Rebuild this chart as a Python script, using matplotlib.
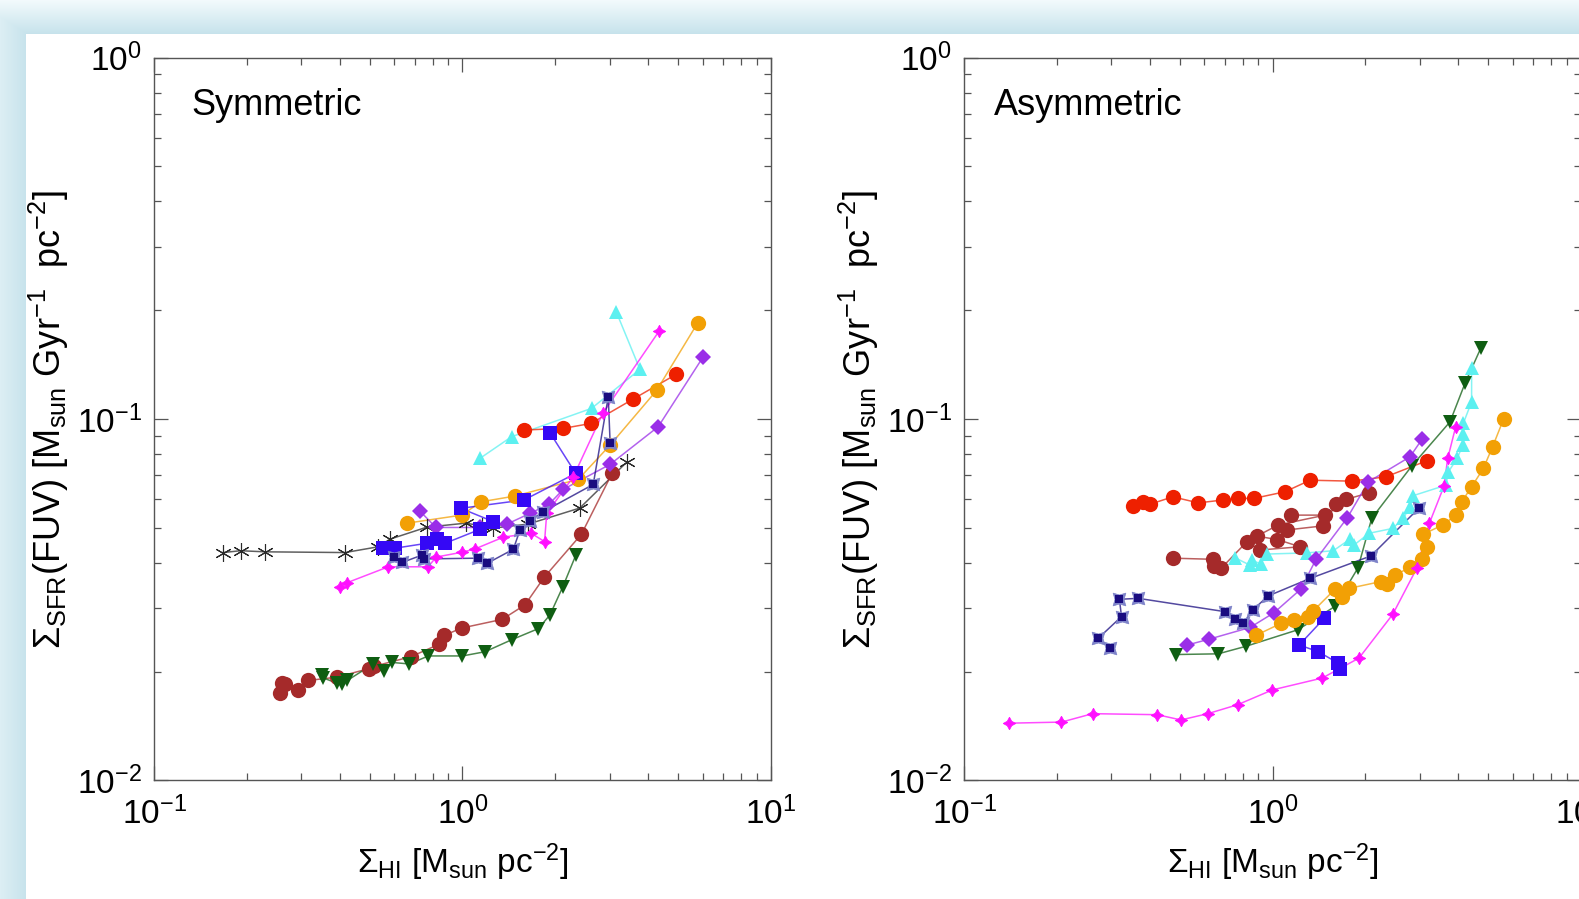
import numpy as np
import matplotlib
matplotlib.use('Agg')
import matplotlib.pyplot as plt
from matplotlib.ticker import LogLocator, FuncFormatter, NullFormatter

# ---- Symmetric panel data (Sigma_HI, Sigma_SFR) ----
sym_black_x = [0.167, 0.191, 0.229, 0.416, 0.533, 0.582, 0.766, 1.026, 1.153, 1.258, 1.634, 2.40, 3.41]
sym_black_y = [0.0427, 0.0432, 0.0429, 0.0427, 0.0443, 0.0465, 0.0502, 0.0515, 0.0506, 0.0499, 0.0512, 0.0567, 0.0760]

sym_brown_x = [0.257, 0.259, 0.266, 0.292, 0.315, 0.391, 0.499, 0.518, 0.681, 0.839, 0.873, 0.994, 1.345, 1.594, 1.841, 2.43, 3.06]
sym_brown_y = [0.0175, 0.0186, 0.0185, 0.0178, 0.0189, 0.0193, 0.0204, 0.0207, 0.0220, 0.0238, 0.0252, 0.0264, 0.0279, 0.0306, 0.0365, 0.0480, 0.0710]

sym_green_x = [0.350, 0.354, 0.391, 0.406, 0.423, 0.514, 0.557, 0.592, 0.673, 0.775, 1.00, 1.183, 1.443, 1.761, 1.921, 2.113, 2.33]
sym_green_y = [0.0196, 0.0192, 0.0186, 0.0185, 0.0189, 0.0210, 0.0201, 0.0212, 0.0210, 0.0221, 0.0221, 0.0227, 0.0245, 0.0263, 0.0287, 0.0343, 0.0420]

sym_red_x = [1.583, 2.123, 2.61, 3.56, 4.92]
sym_red_y = [0.0932, 0.0942, 0.0972, 0.1133, 0.1328]

sym_cyan_x = [1.139, 1.442, 2.62, 3.76, 3.15]
sym_cyan_y = [0.0778, 0.0893, 0.1070, 0.1372, 0.198]

sym_orange_x = [0.662, 0.994, 1.148, 1.479, 2.374, 3.01, 4.26, 5.79]
sym_orange_y = [0.0515, 0.0542, 0.0590, 0.0612, 0.0681, 0.0847, 0.120, 0.1846]

sym_purple_x = [0.728, 0.820, 1.139, 1.394, 1.655, 1.907, 2.123, 3.01, 4.31, 6.01]
sym_purple_y = [0.0556, 0.0501, 0.0501, 0.0512, 0.0548, 0.0581, 0.0639, 0.0749, 0.0952, 0.148]

sym_blue_x = [0.551, 0.604, 0.766, 0.825, 0.878, 1.139, 1.259, 0.987, 1.583, 2.328, 1.921]
sym_blue_y = [0.0439, 0.0439, 0.0453, 0.0465, 0.0453, 0.0495, 0.0520, 0.0566, 0.0597, 0.0707, 0.0916]

sym_navy_x = [0.601, 0.638, 0.738, 0.752, 1.120, 1.204, 1.461, 1.536, 1.655, 1.828, 2.653, 2.968, 3.01]
sym_navy_y = [0.0414, 0.0401, 0.0420, 0.0410, 0.0412, 0.0399, 0.0436, 0.0493, 0.0523, 0.0554, 0.0659, 0.1151, 0.0856]

sym_magenta_x = [0.401, 0.421, 0.575, 0.774, 0.822, 0.998, 1.098, 1.356, 1.667, 1.845, 1.875, 2.287, 2.848, 4.345]
sym_magenta_y = [0.0343, 0.0352, 0.0390, 0.0390, 0.0415, 0.0428, 0.0437, 0.0471, 0.0483, 0.0458, 0.0548, 0.0692, 0.1036, 0.1754]

# ---- Asymmetric panel data ----
asym_red_x = [0.354, 0.380, 0.401, 0.475, 0.575, 0.693, 0.774, 0.871, 1.098, 1.323, 1.806, 2.333, 3.16]
asym_red_y = [0.0574, 0.0590, 0.0581, 0.0609, 0.0586, 0.0597, 0.0603, 0.0603, 0.0629, 0.0677, 0.0673, 0.0692, 0.0766]

asym_brown_x = [0.475, 0.643, 0.646, 0.681, 0.825, 0.911, 1.228, 1.037, 0.889, 1.044, 1.480, 1.146, 1.112, 1.454, 1.606, 1.731, 2.060]
asym_brown_y = [0.0412, 0.0409, 0.0392, 0.0386, 0.0457, 0.0434, 0.0443, 0.0464, 0.0474, 0.0509, 0.0542, 0.0542, 0.0493, 0.0506, 0.0581, 0.0599, 0.0625]

asym_cyan_x = [0.756, 0.846, 0.856, 0.916, 0.958, 1.291, 1.574, 1.783, 1.837, 2.060, 2.453, 2.655, 2.791, 2.848, 3.651, 3.715, 3.97, 4.135, 4.154, 4.154, 4.42, 4.42]
asym_cyan_y = [0.0413, 0.0394, 0.0407, 0.0397, 0.0423, 0.0426, 0.0432, 0.0465, 0.0448, 0.0483, 0.0498, 0.0531, 0.0572, 0.0613, 0.0656, 0.0714, 0.0778, 0.0847, 0.0908, 0.0972, 0.1116, 0.138]

asym_green_x = [0.487, 0.667, 0.820, 1.207, 1.594, 1.892, 2.097, 2.827, 3.762, 4.207, 4.73]
asym_green_y = [0.0223, 0.0224, 0.0235, 0.0261, 0.0303, 0.0387, 0.0531, 0.0741, 0.0982, 0.1255, 0.1568]

asym_purple_x = [0.530, 0.624, 0.846, 1.011, 1.234, 1.384, 1.748, 2.045, 2.791, 3.05]
asym_purple_y = [0.0237, 0.0246, 0.0265, 0.0291, 0.0338, 0.0409, 0.0533, 0.0670, 0.0786, 0.0878]

asym_navy_x = [0.297, 0.272, 0.324, 0.319, 0.367, 0.702, 0.756, 0.804, 0.866, 0.969, 1.323, 2.086, 2.99]
asym_navy_y = [0.0233, 0.0247, 0.0284, 0.0317, 0.0319, 0.0293, 0.0279, 0.0272, 0.0297, 0.0324, 0.0362, 0.0418, 0.0568]

asym_blue_x = [1.472, 1.221, 1.408, 1.635, 1.655]
asym_blue_y = [0.0281, 0.0237, 0.0227, 0.0211, 0.0204]

asym_orange_x = [0.884, 1.066, 1.174, 1.299, 1.353, 1.594, 1.676, 1.774, 2.248, 2.350, 2.495, 2.784, 3.045, 3.160, 3.081, 3.562, 3.934, 4.105, 4.42, 4.825, 5.17, 5.61]
asym_orange_y = [0.0252, 0.0272, 0.0278, 0.0283, 0.0294, 0.0338, 0.0322, 0.0340, 0.0355, 0.0349, 0.0369, 0.0389, 0.0409, 0.0443, 0.0480, 0.0509, 0.0542, 0.0590, 0.0649, 0.0730, 0.0838, 0.0999]

asym_magenta_x = [0.140, 0.207, 0.261, 0.423, 0.505, 0.617, 0.771, 0.999, 1.450, 1.907, 2.453, 2.934, 3.223, 3.597, 3.698, 3.925]
asym_magenta_y = [0.0144, 0.0145, 0.0153, 0.0152, 0.0147, 0.0153, 0.0162, 0.0178, 0.0192, 0.0218, 0.0288, 0.0386, 0.0514, 0.0652, 0.0778, 0.0952]

panel_titles = ['Symmetric', 'Asymmetric']
xlabel = r'$\Sigma_{\mathrm{HI}}$ [M$_{\mathrm{sun}}$ pc$^{-2}$]'
ylabel = r'$\Sigma_{\mathrm{SFR}}$(FUV) [M$_{\mathrm{sun}}$ Gyr$^{-1}$  pc$^{-2}$]'

# colour / marker for each galaxy group
STYLE = {
    'black':   dict(color='#2a2a2a', marker=(6, 2, 0), ms=12, mew=0.8),
    'brown':   dict(color='#a52a2a', marker='o', ms=11, mew=0),
    'green':   dict(color='#0f5e12', marker='v', ms=10, mew=0),
    'red':     dict(color='#ee2000', marker='o', ms=11, mew=0),
    'cyan':    dict(color='#5cf0f0', marker='^', ms=10, mew=0),
    'orange':  dict(color='#f2a005', marker='o', ms=11, mew=0),
    'purple':  dict(color='#9a2ee8', marker='D', ms=8, mew=0),
    'blue':    dict(color='#3508f5', marker='s', ms=10, mew=0),
    'magenta': dict(color='#ff10ff', marker=(4, 1, 0), ms=9, mew=0.6),
    'navy':    dict(color='#1a0c80', marker='s', ms=5.5, mew=0),
}

plt.rcParams['font.family'] = ['Liberation Sans', 'DejaVu Sans']
plt.rcParams['mathtext.fontset'] = 'custom'
plt.rcParams['mathtext.rm'] = 'Liberation Sans'
plt.rcParams['mathtext.it'] = 'Liberation Sans:italic'
plt.rcParams['mathtext.bf'] = 'Liberation Sans:bold'
plt.rcParams['mathtext.sf'] = 'Liberation Sans'

W, H = 1579, 899
fig = plt.figure(figsize=(W / 100, H / 100), dpi=100)
fig.patch.set_facecolor('white')

# slide background: light blue band on top and left
yy, xx = np.mgrid[0:H, 0:W]
t = np.clip(np.minimum(yy / 33.0, 0.5 + 0.5 * xx / 26.0), 0, 1)
edge = np.array([0.95, 0.98, 0.99])
band = np.array([0.78, 0.89, 0.925])
bg = edge + (band - edge) * t[..., None]
bg[(xx >= 26) & (yy >= 34)] = 1.0
fig.figimage(bg, xo=0, yo=0, origin='upper', zorder=-5)


def draw_series(ax, x, y, name):
    st = STYLE[name]
    ax.plot(x, y, color=st['color'], lw=1.1, alpha=0.75, zorder=2)
    if name == 'navy':
        ax.plot(x, y, ls='none', marker=(4, 1, 45), ms=13, color='#7d82c8',
                mew=0.5, zorder=3)
    ax.plot(x, y, ls='none', marker=st['marker'], ms=st['ms'], color=st['color'],
            mec=st['color'], mew=st['mew'], zorder=3)


def tick_fmt(v, pos):
    e = int(round(np.log10(v)))
    return r'$\mathregular{10^{%d}}$' % e


def style_axes(ax, title, title_x):
    ax.set_xscale('log')
    ax.set_yscale('log')
    ax.set_xlim(0.1, 10)
    ax.set_ylim(0.01, 1)
    for a in (ax.xaxis, ax.yaxis):
        a.set_major_locator(LogLocator(base=10, numticks=10))
        a.set_minor_locator(LogLocator(base=10, subs=np.arange(2, 10), numticks=20))
        a.set_major_formatter(FuncFormatter(tick_fmt))
        a.set_minor_formatter(NullFormatter())
    ax.tick_params(which='both', direction='in', top=True, right=True,
                   color='#555555', width=0.9)
    ax.tick_params(which='major', length=10, labelsize=24)
    ax.tick_params(which='minor', length=5)
    ax.tick_params(axis='x', which='major', pad=12)
    ax.tick_params(axis='y', which='major', pad=9)
    for sp in ax.spines.values():
        sp.set_color('#555555')
        sp.set_linewidth(1.0)
    ax.set_xlabel(xlabel, fontsize=24)
    ax.set_ylabel(ylabel, fontsize=26)
    ax.xaxis.set_label_coords(0.5, -0.085)
    ax.yaxis.set_label_coords(-0.135, 0.5)
    ax.text(title_x, 0.934, title, transform=ax.transAxes, fontsize=26,
            ha='left', va='center')


ax1 = fig.add_axes([154 / W, 0.1319, 617 / W, 0.8041])
ax2 = fig.add_axes([964 / W, 0.1319, 617 / W, 0.8041])

draw_series(ax1, sym_black_x, sym_black_y, 'black')
draw_series(ax1, sym_brown_x, sym_brown_y, 'brown')
draw_series(ax1, sym_green_x, sym_green_y, 'green')
draw_series(ax1, sym_cyan_x, sym_cyan_y, 'cyan')
draw_series(ax1, sym_red_x, sym_red_y, 'red')
draw_series(ax1, sym_orange_x, sym_orange_y, 'orange')
draw_series(ax1, sym_purple_x, sym_purple_y, 'purple')
draw_series(ax1, sym_blue_x, sym_blue_y, 'blue')
draw_series(ax1, sym_magenta_x, sym_magenta_y, 'magenta')
draw_series(ax1, sym_navy_x, sym_navy_y, 'navy')

draw_series(ax2, asym_red_x, asym_red_y, 'red')
draw_series(ax2, asym_brown_x, asym_brown_y, 'brown')
draw_series(ax2, asym_cyan_x, asym_cyan_y, 'cyan')
draw_series(ax2, asym_green_x, asym_green_y, 'green')
draw_series(ax2, asym_purple_x, asym_purple_y, 'purple')
draw_series(ax2, asym_navy_x, asym_navy_y, 'navy')
draw_series(ax2, asym_blue_x, asym_blue_y, 'blue')
draw_series(ax2, asym_orange_x, asym_orange_y, 'orange')
draw_series(ax2, asym_magenta_x, asym_magenta_y, 'magenta')

style_axes(ax1, panel_titles[0], 0.06)
style_axes(ax2, panel_titles[1], 0.048)

fig.savefig('out.png', dpi=100)
